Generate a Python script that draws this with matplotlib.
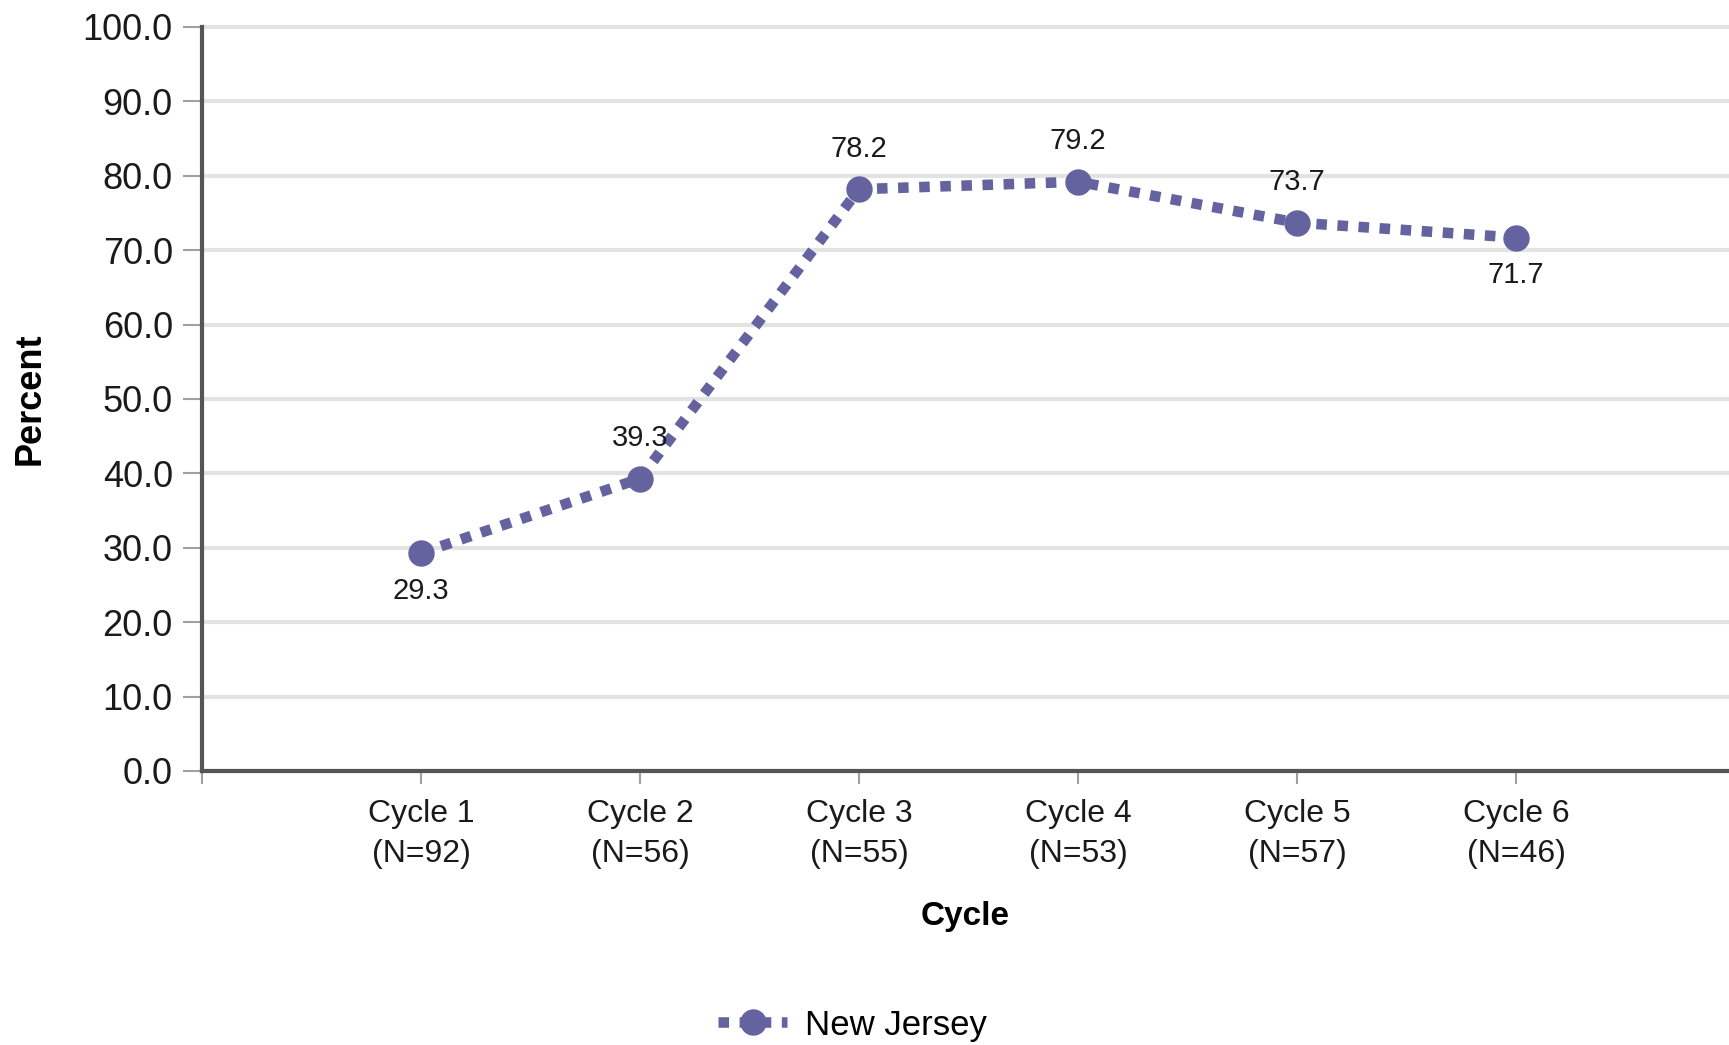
import matplotlib
matplotlib.use("Agg")
import matplotlib.pyplot as plt

plt.rcParams['font.family'] = ['Liberation Sans', 'DejaVu Sans']

cycles = ["Cycle 1", "Cycle 2", "Cycle 3", "Cycle 4", "Cycle 5", "Cycle 6"]
n_counts = [92, 56, 55, 53, 57, 46]
percents = [29.3, 39.3, 78.2, 79.2, 73.7, 71.7]
label_above = [False, True, True, True, True, False]
y_ticks = [0, 10, 20, 30, 40, 50, 60, 70, 80, 90, 100]

line_color = "#65639f"


def make_line():
    """dotted line chart of percent by cycle"""
    fig = plt.figure(figsize=(17.29, 10.45), dpi=100)
    ax = fig.add_axes([202 / 1729, 1 - 771 / 1045, 1 - 202 / 1729, 744 / 1045])

    x = list(range(len(cycles)))
    ax.plot(x, percents, color=line_color, linestyle=(0, (1, 1)), linewidth=7.6,
            marker="o", markersize=18, label="New Jersey", zorder=3, clip_on=False)

    for xi, val, above in zip(x, percents, label_above):
        off = 29 if above else -27
        ax.annotate(f"{val:.1f}", (xi, val), xytext=(0, off), textcoords="offset points",
                    ha="center", va="center", fontsize=21, color="#1a1a1a")

    ax.set_ylim(0, 100)
    ax.set_xlim(-1, (1729 - 421) / 219)
    ax.set_yticks(y_ticks)
    ax.set_yticklabels([f"{v:.1f}" for v in y_ticks])
    ax.set_xticks([-1] + x)
    ax.set_xticklabels([""] + [f"{c}\n(N={n})" for c, n in zip(cycles, n_counts)])
    for lbl in ax.get_xticklabels():
        lbl.set_linespacing(1.45)

    ax.tick_params(axis="y", length=14, width=1.5, color="#a0a0a0", pad=7,
                   labelsize=26, labelcolor="#1a1a1a")
    ax.tick_params(axis="x", length=9, width=1.5, color="#a0a0a0", pad=11,
                   labelsize=23, labelcolor="#1a1a1a")

    ax.grid(axis="y", color="#e3e3e3", linewidth=3, zorder=0)
    ax.set_axisbelow(True)
    for gl in ax.get_ygridlines():
        gl.set_clip_on(False)

    for side in ["top", "right"]:
        ax.spines[side].set_visible(False)
    for side in ["left", "bottom"]:
        ax.spines[side].set_color("#555555")
        ax.spines[side].set_linewidth(3)

    ax.set_ylabel("Percent", fontsize=26, fontweight="bold", va="center")
    ax.yaxis.set_label_coords((30 - 202) / (1729 - 202), 0.5)
    ax.set_xlabel("Cycle", fontsize=24, fontweight="bold", va="center")
    ax.xaxis.set_label_coords(0.5, (771 - 917) / 744)

    fig.legend(loc="center left", bbox_to_anchor=(718 / 1729, 1 - 1025 / 1045),
               frameon=False, borderpad=0, borderaxespad=0, fontsize=25,
               handlelength=2.0, handletextpad=0.5)

    fig.savefig("out.png", dpi=100)
    return 0


if __name__ == "__main__":
    make_line()
